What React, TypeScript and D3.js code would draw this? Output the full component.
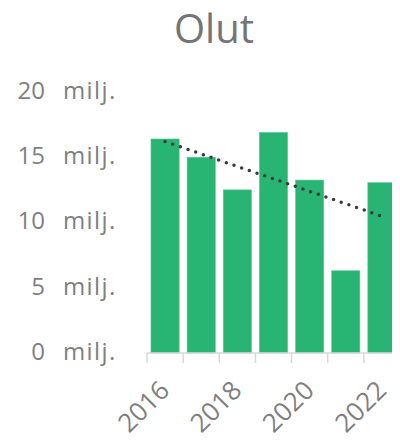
import React from 'react'
import * as d3 from 'd3'

const years = ['2016', '2017', '2018', '2019', '2020', '2021', '2022']
const values = [16.4, 15.0, 12.5, 16.9, 13.25, 6.3, 13.05] // milj.
const yTicks = [0, 5, 10, 15, 20]
const xLabels = ['2016', '2018', '2020', '2022']

const W = 400
const H = 445
const margin = { top: 92, right: 0, bottom: 92, left: 147 }

export default function App() {
  const x = d3.scaleBand<string>()
    .domain(years)
    .range([margin.left, W - margin.right])
    .paddingInner(0.22)
    .paddingOuter(0.11)

  const y = d3.scaleLinear()
    .domain([0, 20])
    .range([H - margin.bottom, margin.top])

  // linear trend line (least squares) over bar index
  const idx = years.map((_, i) => i)
  const mx = d3.mean(idx) as number
  const my = d3.mean(values) as number
  const slope = d3.sum(idx, i => (i - mx) * (values[i] - my)) / d3.sum(idx, i => (i - mx) ** 2)
  const trend = idx.map(i => ({ yr: years[i], v: my + slope * (i - mx) }))
  const trendLine = d3.line<{ yr: string, v: number }>()
    .x(d => (x(d.yr) as number) + x.bandwidth() / 2)
    .y(d => y(d.v))

  const step = x.step()
  const x0 = margin.left
  const base = y(0)
  const font = '"Open Sans", sans-serif'

  return (
    <div style={{ margin: -8 }}>
      <svg width={W} height={H} style={{ display: 'block' }}>
        <text x={214} y={43} textAnchor="middle" fontFamily={font} fontSize={40} fill="#757575">Olut</text>

        {yTicks.map(t => (
          <g key={t} transform={`translate(0,${y(t) - 1.5})`} fontFamily={font} fill="#7f7f7f">
            <text x={45} dy="0.35em" textAnchor="end" fontSize={24}>{t}</text>
            <text x={63} dy="0.35em" fontSize={24} letterSpacing={1.4}>milj.</text>
          </g>
        ))}

        {years.map((yr, i) => (
          <rect key={yr} x={x(yr)} y={y(values[i])} width={x.bandwidth()} height={base - y(values[i])}
            fill="#28b473" stroke="#5cc897" strokeWidth={0.6} />
        ))}

        <line x1={x0} x2={W} y1={base} y2={base} stroke="#d9d9d9" strokeWidth={1.5} />
        {d3.range(years.length + 1).map(i => (
          <line key={i} x1={x0 + i * step} x2={x0 + i * step} y1={base} y2={base + 10} stroke="#d9d9d9" strokeWidth={1.5} />
        ))}

        <path d={trendLine(trend) as string} fill="none" stroke="#3a3a3a" strokeWidth={3.5}
          strokeLinecap="round" strokeDasharray="0 8.1" />

        {xLabels.map(l => {
          const cx = (x(l) as number) + x.bandwidth() / 2 + 6
          const cy = base + 39
          return (
            <text key={l} transform={`translate(${cx},${cy}) rotate(-45)`} textAnchor="end"
              fontFamily={font} fontSize={26} fill="#7f7f7f">{l}</text>
          )
        })}
      </svg>
    </div>
  )
}
